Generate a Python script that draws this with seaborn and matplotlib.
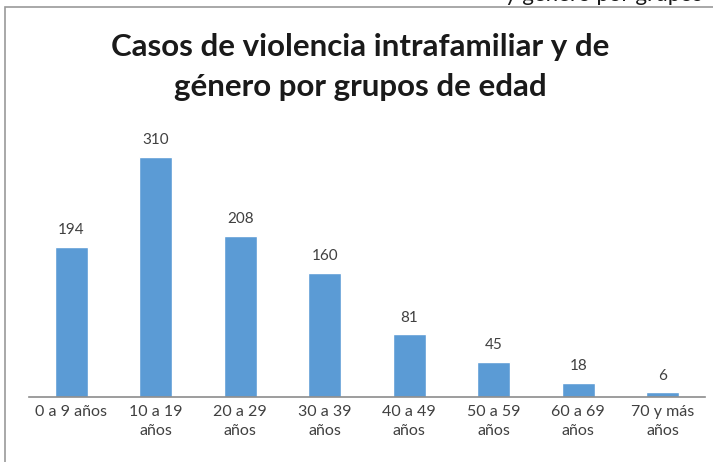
import matplotlib
matplotlib.use("Agg")
import matplotlib.pyplot as plt
import pandas as pd
import seaborn as sns
from matplotlib.patches import Rectangle

# data
age_groups = ["0 a 9 años", "10 a 19\naños", "20 a 29\naños", "30 a 39\naños",
              "40 a 49\naños", "50 a 59\naños", "60 a 69\naños", "70 y más\naños"]
cases = [194, 310, 208, 160, 81, 45, 18, 6]

title = "Casos de violencia intrafamiliar y de\ngénero por grupos de edad"
bar_color = "#5B9BD5"
text_color = "#404040"

sns.set_theme(style="white")
plt.rcParams["font.family"] = ["Lato", "DejaVu Sans"]

df = pd.DataFrame({"grupo": age_groups, "casos": cases})

fig = plt.figure(figsize=(7.13, 4.62), dpi=100)
ax = fig.add_axes([29 / 713, 1 - 397 / 462, 676 / 713, 271 / 462])

sns.barplot(data=df, x="grupo", y="casos", color=bar_color, saturation=1,
            width=0.39, ax=ax)
ax.bar_label(ax.containers[0], fmt="%d", padding=7, fontsize=11,
             color=text_color)

ax.set_ylim(0, 350)
ax.set_xlim(-0.5, len(cases) - 0.5)
ax.set_yticks([])
ax.set_xlabel("")
ax.set_ylabel("")
ax.tick_params(axis="x", length=0, pad=6, labelsize=11.5, labelcolor=text_color)
for lbl in ax.get_xticklabels():
    lbl.set_linespacing(1.45)
for side in ["top", "left", "right"]:
    ax.spines[side].set_visible(False)
ax.spines["bottom"].set_color("#8c8c8c")
ax.spines["bottom"].set_linewidth(1.2)

fig.text(360 / 713, 1 - 67 / 462, title, ha="center", va="center",
         fontsize=22.5, fontweight="bold", color="#1a1a1a", linespacing=1.55)

# chart frame (cropped screenshot border)
fig.patches.append(Rectangle((5 / 713, -0.1), 1.2, 1 - 7 / 462 + 0.1,
                             transform=fig.transFigure, fill=False,
                             edgecolor="#9a9a9a", linewidth=1.2))
# cut-off text above the frame
fig.text(505 / 713, 1 - 1 / 462, "y género por grupos", ha="left",
         va="baseline", fontsize=16, color="#1a1a1a")

fig.savefig("out.png", dpi=100)
